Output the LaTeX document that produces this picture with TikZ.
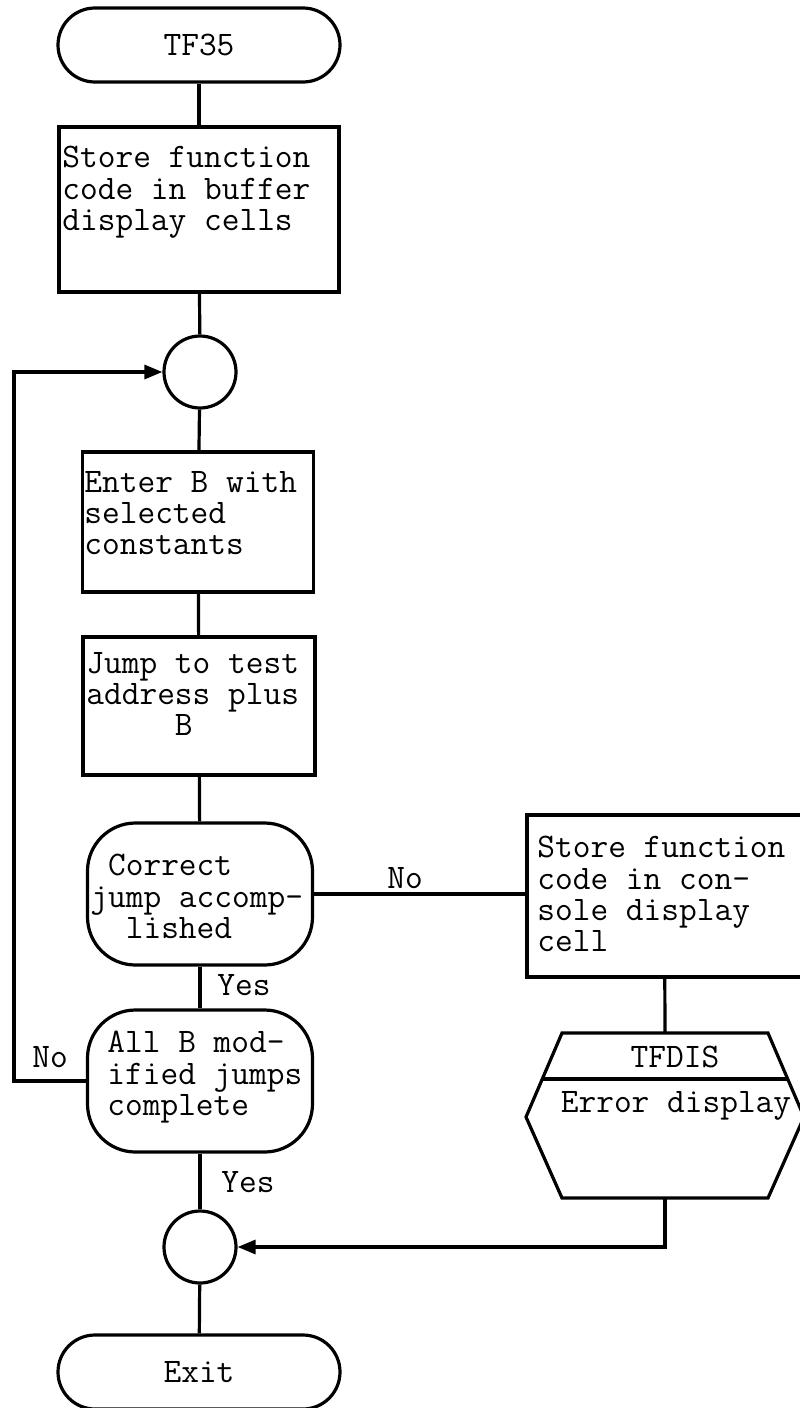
\documentclass[tikz,border=0pt]{standalone}
\usetikzlibrary{positioning, arrows.meta}
\newcommand{\fcfont}{\ttfamily\fontsize{17.2pt}{15.6pt}\selectfont}

\begin{document}
\begin{tikzpicture}[x=0.5pt, y=-0.5pt,
  flow/.style={line width=1.6pt},
  arw/.style={flow, -{Triangle[length=9pt,width=7pt]}},
  term/.style={draw, line width=1.6pt, minimum width=141pt, minimum height=37pt,
    rounded corners=18.5pt, font=\fcfont},
  pbox/.style={draw, line width=1.6pt, inner sep=0pt},
  dec/.style={draw, line width=1.6pt, inner sep=0pt, minimum width=112.5pt,
    minimum height=71pt, rounded corners=24pt},
  conn/.style={draw, circle, line width=1.6pt, minimum size=36pt, inner sep=0pt},
  txt/.style={inner sep=0pt, anchor=north west, align=left, font=\fcfont},
  lbl/.style={inner sep=0pt, anchor=base west, font=\fcfont},
]
\useasboundingbox (0,0) rectangle (799,1408);

% main column
\node[term] (tf35) at (199,45) {TF35};
\node[pbox, minimum width=140pt, minimum height=82.5pt] (store) at (199,209.5) {};
\node[txt] (store-t) at (62,146) {Store function\\code in buffer\\display cells};
\node[conn] (join1) at (200,372) {};
\node[pbox, minimum width=115.5pt, minimum height=70pt] (enterb) at (198,522) {};
\node[txt] (enterb-t) at (84,471) {Enter B with\\selected\\constants};
\node[pbox, minimum width=116pt, minimum height=69pt] (jump) at (199,706) {};
\node[txt] (jump-t) at (86,652) {Jump to test\\address plus\\\hphantom{xxxxx}B};
\node[dec] (correct) at (200,894) {};
\node[txt] (correct-t) at (90,854) {\hphantom{x}Correct\\jump accomp-\\\hphantom{xx}lished};
\node[dec] (allb) at (200,1081) {};
\node[txt] (allb-t) at (107,1031) {All B mod-\\ified jumps\\complete};
\node[conn] (join2) at (200,1247) {};
\node[term] (exit) at (199,1372) {Exit};

% error branch
\node[pbox, minimum width=137.5pt, minimum height=81pt] (console) at (664.5,896) {};
\node[txt] (console-t) at (537,836) {Store function\\code in con-\\sole display\\cell};
\coordinate (disp-top) at (665,1033);
\coordinate (disp-bot) at (665,1198);
\draw[flow] (562,1033) -- (768,1033) -- (804,1117) -- (768,1198) -- (562,1198)
  -- (526,1117) -- cycle;
\draw[flow] (542,1079) -- (788,1079);
\node[inner sep=0pt, font=\fcfont] (tfdis) at (675,1057) {TFDIS};
\node[inner sep=0pt, font=\fcfont] (errdisp) at (676,1106) {Error display};

% connectors
\coordinate (loopx) at (14,0);
\draw[flow] (tf35) -- (store);
\draw[flow] (store) -- (join1);
\draw[flow] (join1) -- (enterb);
\draw[flow] (enterb) -- (jump);
\draw[flow] (jump) -- (correct);
\draw[flow] (correct) -- (allb);
\draw[flow] (allb) -- (join2);
\draw[flow] (join2) -- (exit);
\draw[flow] (correct.east) -- (correct.east -| console.west);
\draw[arw] (allb.west) -- (allb.west -| loopx) |- (join1.west);
\draw[flow] (console) -- (disp-top);
\draw[arw] (disp-bot) |- (join2.east);

% labels
\node[lbl] (no1) at (387,888) {No};
\node[lbl] (yes1) at (217,995) {Yes};
\node[lbl] (no2) at (32,1067) {No};
\node[lbl] (yes2) at (221,1192) {Yes};
\end{tikzpicture}
\end{document}
